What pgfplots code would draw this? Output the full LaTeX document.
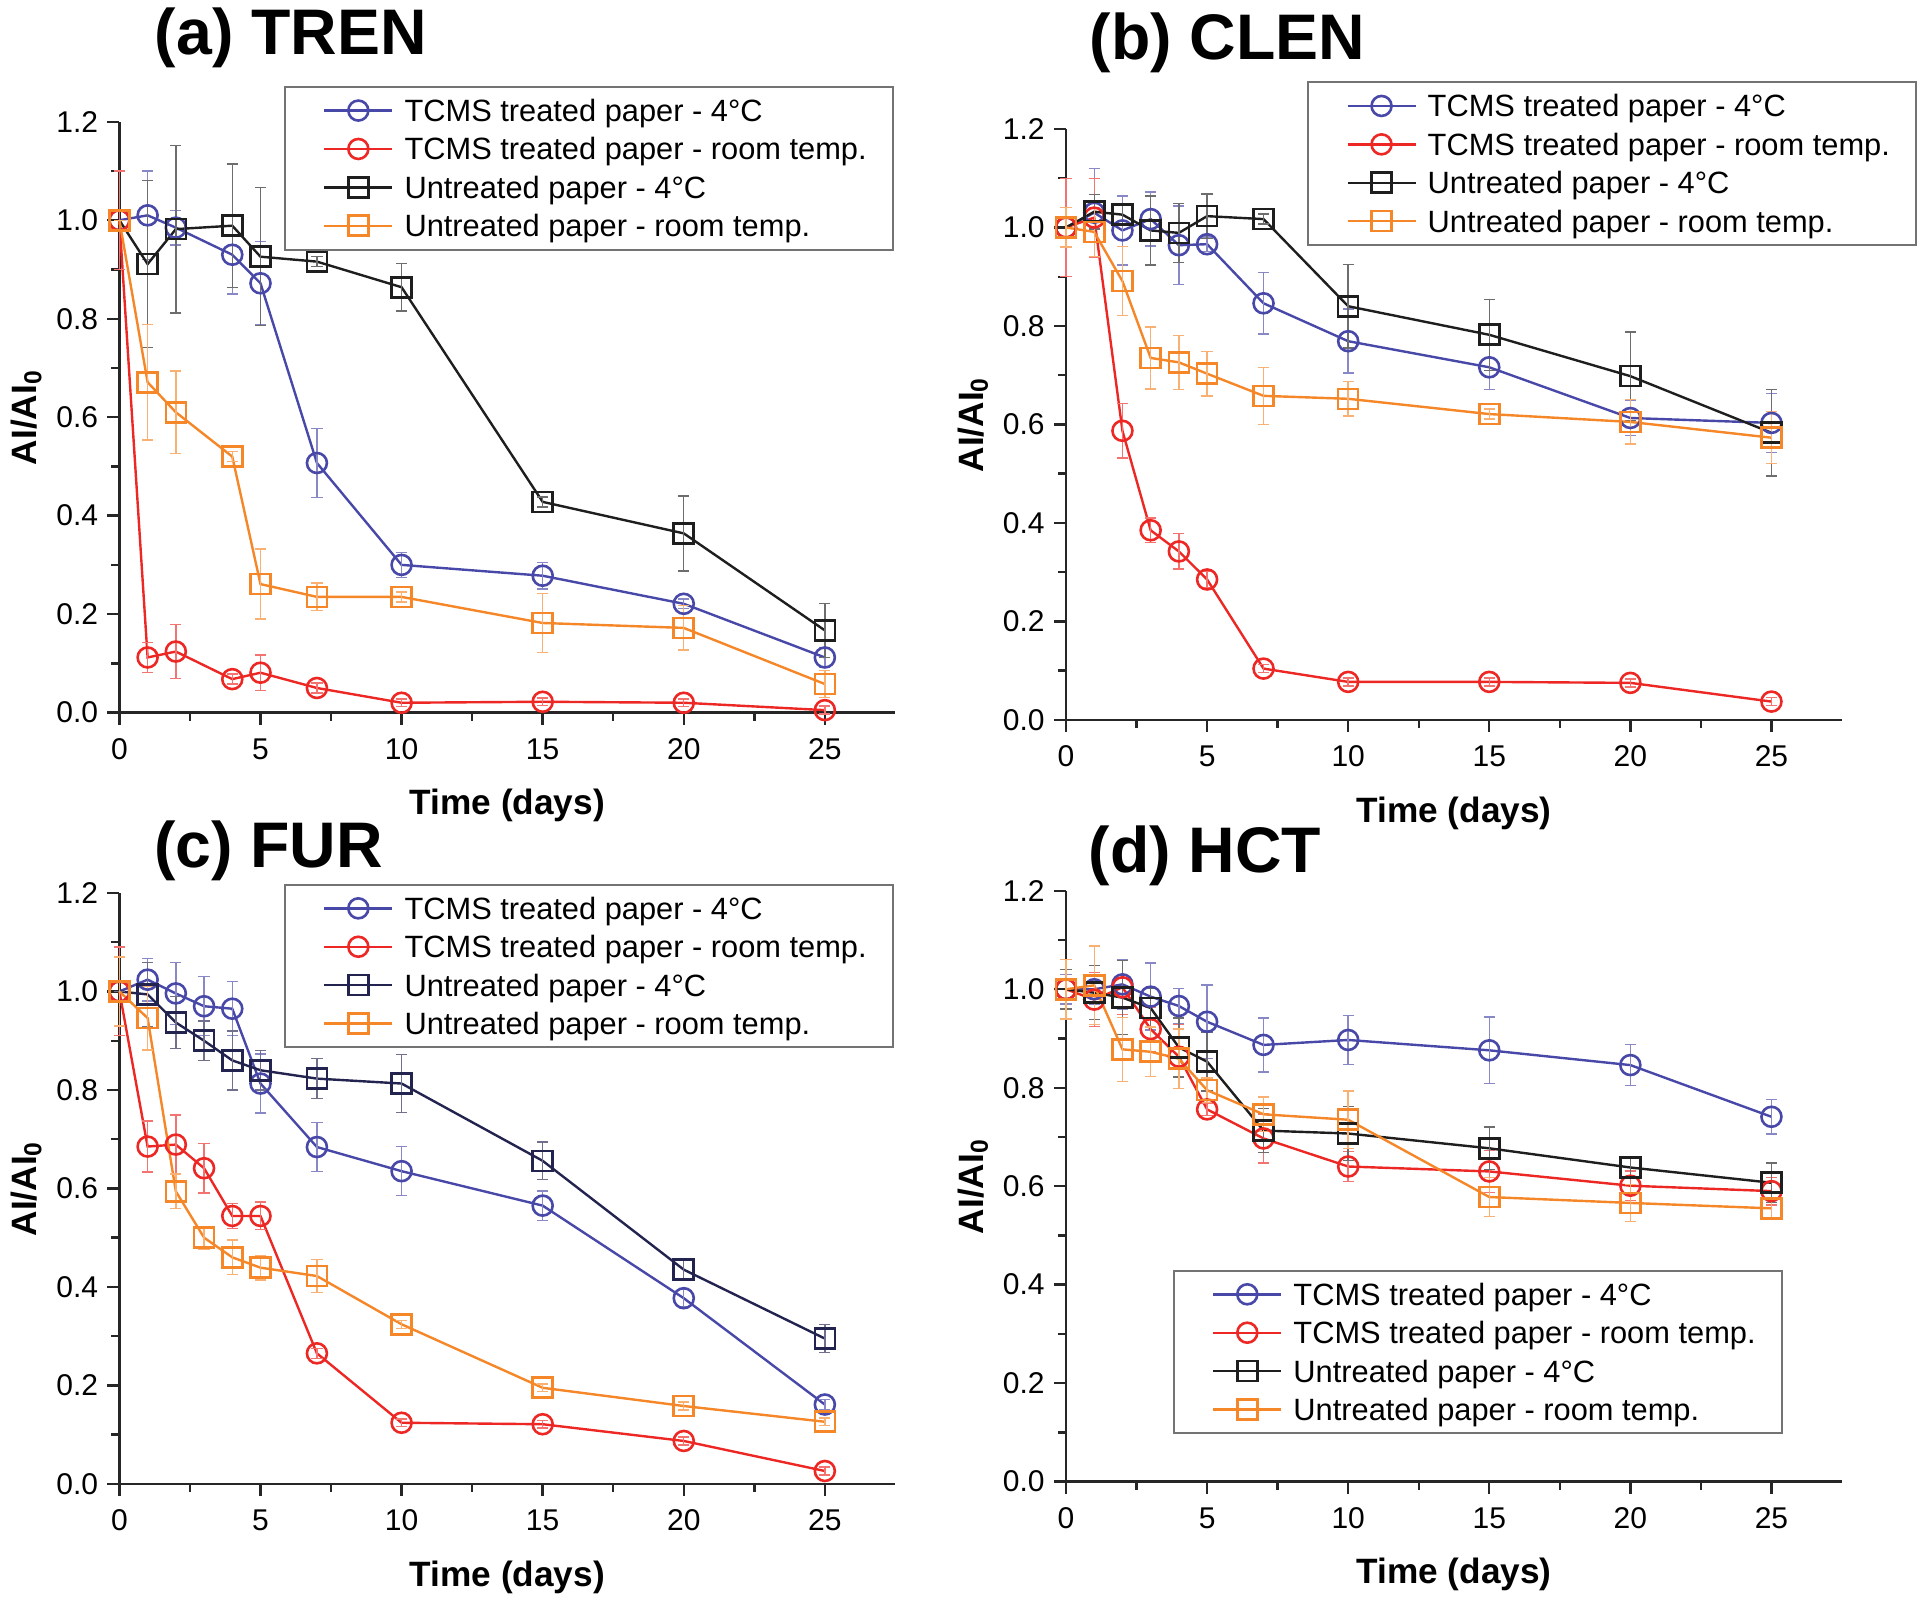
\documentclass[border=0pt]{standalone}
\usepackage{fontspec}
\setmainfont{Liberation Sans}
\setsansfont{Liberation Sans}
\usepackage{pgfplots}
\pgfplotsset{compat=1.18}
\definecolor{cblue}{RGB}{72,72,168}
\definecolor{cred}{RGB}{237,40,36}
\definecolor{cblack}{RGB}{30,30,30}
\definecolor{cnavy}{RGB}{35,35,80}
\definecolor{corange}{RGB}{245,135,40}
\pgfplotsset{
  panel/.style={
    scale only axis, width=194pt, height=147.7pt,
    xmin=0, xmax=27.5, ymin=0, ymax=1.2,
    axis lines*=left,
    axis line style={-, line width=0.6pt, black!85},
    xtick={0,5,10,15,20,25}, ytick={0,0.2,0.4,0.6,0.8,1.0,1.2},
    minor x tick num=1, minor y tick num=1,
    tick align=outside, major tick length=3pt, minor tick length=2pt,
    every tick/.style={black!85, line width=0.6pt},
    tick label style={font=\fontsize{7.5}{9}\selectfont},
    /pgf/number format/assume math mode=true,
    yticklabel style={xshift=1.2pt, /pgf/number format/.cd, fixed, fixed zerofill, precision=1},
    xlabel={Time (days)}, ylabel={AI/AI\textsubscript{0}},
    xlabel style={at={(axis description cs:0.5,-0.173)}, anchor=base, font=\bfseries\fontsize{8.8}{10}\selectfont},
    ylabel style={at={(axis description cs:-0.12,0.5)}, anchor=center, font=\bfseries\fontsize{8.8}{10}\selectfont},
    clip=false,
    legend cell align=left,
    legend style={anchor=north west, draw=black!55, line width=0.5pt,
      font=\fontsize{7.7}{9}\selectfont, inner xsep=6.5pt, inner ysep=3.2pt,
      row sep=4.1pt, column sep=2.75pt,
      nodes={inner sep=0pt, text height=5.5pt, text depth=0pt}},
    legend image code/.code={
      \path (0pt,0pt);
      \draw[mark repeat=2,mark phase=2] plot coordinates {(3pt,0pt) (11.5pt,0pt) (20pt,0pt)};
    },
  },
  ser/.style={color=#1, line width=0.6pt, mark size=2.5pt,
    mark options={fill=white, line width=0.65pt, solid},
    error bars/y dir=both, error bars/y explicit,
    error bars/error bar style={line width=0.35pt, #1!65},
    error bars/error mark options={rotate=90, mark size=1.4pt, line width=0.35pt, #1!65}},
  sc/.style={ser=#1, mark=o},
  ss/.style={ser=#1, mark=square},
}
\begin{document}
\begin{tikzpicture}
\useasboundingbox (0,0) rectangle (480pt,399.75pt);
\node[anchor=base west, inner sep=0pt, font=\bfseries\fontsize{16.1}{18}\selectfont] at (38.5pt,386pt) {(a) TREN};
\node[anchor=base west, inner sep=0pt, font=\bfseries\fontsize{16.1}{18}\selectfont] at (272.25pt,384.75pt) {(b) CLEN};
\node[anchor=base west, inner sep=0pt, font=\bfseries\fontsize{16.1}{18}\selectfont] at (38.3pt,182.75pt) {(c) FUR};
\node[anchor=base west, inner sep=0pt, font=\bfseries\fontsize{16.1}{18}\selectfont] at (272pt,181.5pt) {(d) HCT};

% (a) TREN
\begin{axis}[panel, at={(29.85pt,221.6pt)}, anchor=south west,
  legend style={at={(axis description cs:0.2123,1.061)}}]
\addplot[sc=cblue] coordinates {(0,1.00)+-(0,0.02) (1,1.01)+-(0,0.09) (2,0.985)+-(0,0.035) (4,0.93)+-(0,0.08) (5,0.872)+-(0,0.085) (7,0.507)+-(0,0.07) (10,0.300)+-(0,0.025) (15,0.278)+-(0,0.027) (20,0.221)+-(0,0.01) (25,0.112)+-(0,0.02)};
\addlegendentry{TCMS treated paper - 4°C}
\addplot[sc=cred] coordinates {(0,1.0)+-(0,0.10) (1,0.112)+-(0,0.03) (2,0.124)+-(0,0.055) (4,0.068)+-(0,0.01) (5,0.081)+-(0,0.036) (7,0.05)+-(0,0.01) (10,0.02)+-(0,0.008) (15,0.022)+-(0,0.008) (20,0.02)+-(0,0.008) (25,0.005)+-(0,0.008)};
\addlegendentry{TCMS treated paper - room temp.}
\addplot[ss=cblack] coordinates {(0,1.0)+-(0,0.0) (1,0.911)+-(0,0.17) (2,0.982)+-(0,0.17) (4,0.989)+-(0,0.125) (5,0.926)+-(0,0.14) (7,0.916)+-(0,0.01) (10,0.864)+-(0,0.048) (15,0.428)+-(0,0.01) (20,0.364)+-(0,0.076) (25,0.167)+-(0,0.055)};
\addlegendentry{Untreated paper - 4°C}
\addplot[ss=corange] coordinates {(0,1.0)+-(0,0.0) (1,0.671)+-(0,0.117) (2,0.61)+-(0,0.084) (4,0.52)+-(0,0.01) (5,0.261)+-(0,0.071) (7,0.235)+-(0,0.028) (10,0.235)+-(0,0.01) (15,0.182)+-(0,0.06) (20,0.172)+-(0,0.045) (25,0.058)+-(0,0.027)};
\addlegendentry{Untreated paper - room temp.}
\end{axis}

% (b) CLEN
\begin{axis}[panel, at={(266.5pt,219.8pt)}, anchor=south west,
  legend style={at={(axis description cs:0.311,1.081)}}]
\addplot[sc=cblue] coordinates {(0,1.0)+-(0,0.02) (1,1.03)+-(0,0.09) (2,0.994)+-(0,0.07) (3,1.017)+-(0,0.055) (4,0.964)+-(0,0.08) (5,0.966)+-(0,0.015) (7,0.846)+-(0,0.062) (10,0.769)+-(0,0.065) (15,0.716)+-(0,0.045) (20,0.613)+-(0,0.035) (25,0.603)+-(0,0.06)};
\addlegendentry{TCMS treated paper - 4°C}
\addplot[sc=cred] coordinates {(0,1.0)+-(0,0.1) (1,1.02)+-(0,0.08) (2,0.587)+-(0,0.055) (3,0.385)+-(0,0.025) (4,0.342)+-(0,0.036) (5,0.285)+-(0,0.017) (7,0.104)+-(0,0.008) (10,0.077)+-(0,0.008) (15,0.077)+-(0,0.008) (20,0.075)+-(0,0.008) (25,0.037)+-(0,0.008)};
\addlegendentry{TCMS treated paper - room temp.}
\addplot[ss=cblack] coordinates {(0,1.0)+-(0,0.04) (1,1.032)+-(0,0.035) (2,1.026)+-(0,0.02) (3,0.994)+-(0,0.07) (4,0.989)+-(0,0.06) (5,1.023)+-(0,0.045) (7,1.017)+-(0,0.01) (10,0.840)+-(0,0.085) (15,0.782)+-(0,0.072) (20,0.698)+-(0,0.09) (25,0.583)+-(0,0.088)};
\addlegendentry{Untreated paper - 4°C}
\addplot[ss=corange] coordinates {(0,1.0)+-(0,0.04) (1,0.991)+-(0,0.05) (2,0.891)+-(0,0.07) (3,0.735)+-(0,0.063) (4,0.726)+-(0,0.055) (5,0.703)+-(0,0.045) (7,0.658)+-(0,0.058) (10,0.652)+-(0,0.035) (15,0.621)+-(0,0.01) (20,0.605)+-(0,0.045) (25,0.573)+-(0,0.053)};
\addlegendentry{Untreated paper - room temp.}
\end{axis}

% (c) FUR
\begin{axis}[panel, at={(29.85pt,28.8pt)}, anchor=south west,
  legend style={at={(axis description cs:0.2123,1.016)}}]
\addplot[sc=cblue] coordinates {(0,1.0)+-(0,0.02) (1,1.024)+-(0,0.043) (2,0.996)+-(0,0.063) (3,0.970)+-(0,0.06) (4,0.965)+-(0,0.055) (5,0.813)+-(0,0.06) (7,0.684)+-(0,0.05) (10,0.635)+-(0,0.05) (15,0.565)+-(0,0.03) (20,0.377)+-(0,0.018) (25,0.161)+-(0,0.01)};
\addlegendentry{TCMS treated paper - 4°C}
\addplot[sc=cred] coordinates {(0,1.0)+-(0,0.09) (1,0.685)+-(0,0.052) (2,0.689)+-(0,0.06) (3,0.641)+-(0,0.05) (4,0.544)+-(0,0.025) (5,0.544)+-(0,0.028) (7,0.265)+-(0,0.01) (10,0.124)+-(0,0.008) (15,0.121)+-(0,0.008) (20,0.087)+-(0,0.008) (25,0.026)+-(0,0.008)};
\addlegendentry{TCMS treated paper - room temp.}
\addplot[ss=cnavy] coordinates {(0,1.0)+-(0,0.0) (1,0.994)+-(0,0.065) (2,0.937)+-(0,0.053) (3,0.90)+-(0,0.04) (4,0.86)+-(0,0.06) (5,0.84)+-(0,0.04) (7,0.823)+-(0,0.041) (10,0.813)+-(0,0.059) (15,0.656)+-(0,0.038) (20,0.435)+-(0,0.018) (25,0.295)+-(0,0.028)};
\addlegendentry{Untreated paper - 4°C}
\addplot[ss=corange] coordinates {(0,1.0)+-(0,0.07) (1,0.946)+-(0,0.065) (2,0.594)+-(0,0.035) (3,0.50)+-(0,0.023) (4,0.46)+-(0,0.035) (5,0.439)+-(0,0.025) (7,0.422)+-(0,0.033) (10,0.324)+-(0,0.008) (15,0.195)+-(0,0.008) (20,0.158)+-(0,0.008) (25,0.126)+-(0,0.008)};
\addlegendentry{Untreated paper - room temp.}
\end{axis}

% (d) HCT
\begin{axis}[panel, at={(266.5pt,29.35pt)}, anchor=south west,
  legend style={at={(axis description cs:0.138,0.359)}}]
\addplot[sc=cblue] coordinates {(0,1.0)+-(0,0.03) (1,1.0)+-(0,0.03) (2,1.01)+-(0,0.05) (3,0.985)+-(0,0.068) (4,0.966)+-(0,0.035) (5,0.934)+-(0,0.075) (7,0.887)+-(0,0.055) (10,0.897)+-(0,0.05) (15,0.876)+-(0,0.068) (20,0.846)+-(0,0.042) (25,0.741)+-(0,0.035)};
\addlegendentry{TCMS treated paper - 4°C}
\addplot[sc=cred] coordinates {(0,1.0)+-(0,0.04) (1,0.979)+-(0,0.055) (2,1.004)+-(0,0.055) (3,0.919)+-(0,0.045) (4,0.863)+-(0,0.065) (5,0.756)+-(0,0.012) (7,0.697)+-(0,0.05) (10,0.64)+-(0,0.03) (15,0.63)+-(0,0.043) (20,0.601)+-(0,0.03) (25,0.59)+-(0,0.028)};
\addlegendentry{TCMS treated paper - room temp.}
\addplot[ss=cblack] coordinates {(0,1.0)+-(0,0.04) (1,0.993)+-(0,0.055) (2,0.983)+-(0,0.075) (3,0.962)+-(0,0.04) (4,0.882)+-(0,0.06) (5,0.853)+-(0,0.06) (7,0.713)+-(0,0.045) (10,0.707)+-(0,0.055) (15,0.677)+-(0,0.043) (20,0.638)+-(0,0.02) (25,0.607)+-(0,0.04)};
\addlegendentry{Untreated paper - 4°C}
\addplot[ss=corange] coordinates {(0,1.0)+-(0,0.06) (1,1.008)+-(0,0.08) (2,0.878)+-(0,0.065) (3,0.873)+-(0,0.05) (4,0.859)+-(0,0.06) (5,0.795)+-(0,0.025) (7,0.746)+-(0,0.035) (10,0.735)+-(0,0.058) (15,0.578)+-(0,0.04) (20,0.566)+-(0,0.038) (25,0.555)+-(0,0.018)};
\addlegendentry{Untreated paper - room temp.}
\end{axis}
\end{tikzpicture}
\end{document}
